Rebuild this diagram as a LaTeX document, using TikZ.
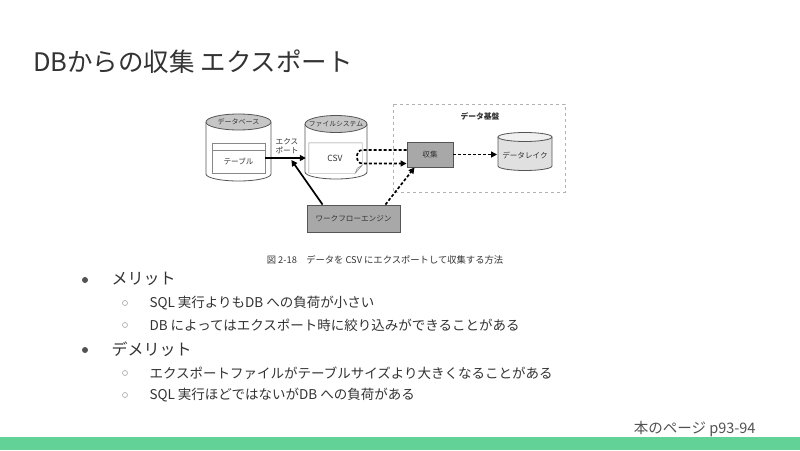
\documentclass[tikz,border=0pt]{standalone}
\usepackage{fontspec}
\setmainfont{Noto Sans CJK JP}
\usetikzlibrary{arrows.meta}

\definecolor{ink}{HTML}{333333}
\definecolor{edge}{HTML}{555555}
\definecolor{boxgray}{HTML}{A8A8A8}
\definecolor{topgray}{HTML}{C6C6C6}
\definecolor{lakegray}{HTML}{E0E0E0}
\definecolor{bargreen}{HTML}{63D297}

\tikzset{
  lbl/.style={font=\fontsize{7.6}{9.5}\selectfont, text=ink},
  gbox/.style={draw=edge, fill=boxgray, line width=0.9pt, font=\fontsize{7.6}{9}\selectfont, text=ink},
  flow/.style={line width=1.7pt, -{Triangle[length=6pt,width=6pt]}},
  dflow/.style={flow, dash pattern=on 3pt off 2pt},
  zone/.style={draw=gray!60, dashed, line width=0.7pt},
  bigtext/.style={font=\fontsize{16}{18}\selectfont, text=ink, anchor=west},
  smalltext/.style={font=\fontsize{13.5}{15}\selectfont, text=ink, anchor=west},
}

\begin{document}
\begin{tikzpicture}[x=1pt,y=-1pt]
    \useasboundingbox (0,0) rectangle (800,450);
    \fill[white] (0,0) rectangle (800,450);

    % Title
    \node[anchor=base west, inner sep=0, font=\fontsize{25.5}{28}\selectfont, text=ink] (title) at (33,71) {DBからの収集 エクスポート};

    % Database
    \filldraw[draw=edge, fill=white, line width=0.8pt] (206,122) -- (206,174) arc[start angle=180, end angle=0, x radius=32.5, y radius=7] -- (271,122);
    \filldraw[draw=edge, fill=topgray, line width=0.8pt] (238.5,122) ellipse [x radius=32.5, y radius=8];
    \node[lbl, font=\fontsize{7}{8}\selectfont] (db) at (238.5,122) {データベース};
    \node[draw=edge!70, fill=white, minimum width=53pt, minimum height=30pt, inner sep=0] (tbl) at (238.5,158) {};
    \draw[edge!70] ([yshift=-7pt]tbl.north west) -- ([yshift=-7pt]tbl.north east);
    \node[lbl] (tbltext) at (238.5,161) {テーブル};

    % File system
    \filldraw[draw=edge, fill=white, line width=0.8pt] (305,124) -- (305,172) arc[start angle=180, end angle=0, x radius=31, y radius=7] -- (367,124);
    \filldraw[draw=edge, fill=topgray, line width=0.8pt] (336,124) ellipse [x radius=31, y radius=8.5];
    \node[lbl, font=\fontsize{6.8}{8}\selectfont] (fs) at (336,124) {ファイルシステム};
    \node[minimum width=53pt, minimum height=30pt, inner sep=0] (csv) at (335.5,158) {};
    \filldraw[draw=edge!70, fill=white] (csv.north west) -- (csv.north east) -- ([yshift=8pt]csv.south east) -- ([xshift=-7pt]csv.south east) -- (csv.south west) -- cycle;
    \filldraw[draw=edge!70, fill=gray!15] ([yshift=8pt]csv.south east) -- ([xshift=-5pt,yshift=5pt]csv.south east) -- ([xshift=-7pt]csv.south east) -- cycle;
    \node[font=\fontsize{8.5}{9}\selectfont, text=ink] (csvtext) at (335,158) {CSV};

    % Export
    \draw[flow, shorten >=3pt] (tbl.east) -- coordinate[pos=0.6] (expmid) (csv.west);
    \node[lbl, align=center] (explbl) at (287,146) {エクス\\ポート};

    % Workflow engine
    \node[gbox, minimum width=93pt, minimum height=27pt] (wf) at (353.5,218.5) {ワークフローエンジン};
    \draw[flow] ([xshift=16pt]wf.north west) -- ([yshift=-2pt]expmid);

    % Data platform
    \draw[zone] (393,104) rectangle (565,192);
    \node[lbl, font=\bfseries\fontsize{7.8}{9}\selectfont] (platform) at (480,116) {データ基盤};
    \node[gbox, minimum width=46pt, minimum height=25pt] (collect) at (430,154.5) {収集};

    % Data lake
    \filldraw[draw=edge, fill=lakegray, line width=0.8pt] (498,137) -- (498,166) arc[start angle=180, end angle=0, x radius=27, y radius=4.5] -- (552,137);
    \filldraw[draw=edge, fill=gray!12, line width=0.8pt] (525,137) ellipse [x radius=27, y radius=4.5];
    \node[lbl] (lake) at (525,155) {データレイク};
    \coordinate (lakein) at (497,154.5);

    % Collect flows
    \coordinate (inhi) at ([yshift=4.5pt]collect.west);
    \coordinate (inlo) at ([yshift=-9pt]collect.west);
    \draw[dflow] (inhi) -- (inhi -| csv.east) .. controls +(-7,0) and +(-7,0) .. (inlo -| csv.east) -- (inlo);
    \draw[dflow] (collect.east) -- (lakein);
    \draw[dflow] ([xshift=-15pt]wf.north east) -- ([xshift=8pt]collect.south west);

    % Caption
    \node[font=\fontsize{9.3}{10}\selectfont, text=ink] (caption) at (385,260) {図 2-18　データを CSV にエクスポートして収集する方法};

    % Pros
    \fill[ink!85] (85,280) circle (3);
    \node[bigtext] (pros) at (108,279) {メリット};
    \draw[gray!70, line width=0.6pt] (125,303) circle (2.5);
    \node[smalltext] (pro1) at (146,303) {SQL 実行よりもDB への負荷が小さい};
    \draw[gray!70, line width=0.6pt] (125,325) circle (2.5);
    \node[smalltext] (pro2) at (146,325) {DB によってはエクスポート時に絞り込みができることがある};

    % Cons
    \fill[ink!85] (85,350) circle (3);
    \node[bigtext] (cons) at (108,349) {デメリット};
    \draw[gray!70, line width=0.6pt] (125,373) circle (2.5);
    \node[smalltext] (con1) at (146,373) {エクスポートファイルがテーブルサイズより大きくなることがある};
    \draw[gray!70, line width=0.6pt] (125,395) circle (2.5);
    \node[smalltext] (con2) at (146,395) {SQL 実行ほどではないがDB への負荷がある};

    % Footer
    \fill[bargreen] (0,437) rectangle (800,450);
    \node[anchor=east, font=\fontsize{14.5}{16}\selectfont, text=ink!85] (page) at (759,429) {本のページ p93-94};
\end{tikzpicture}
\end{document}
